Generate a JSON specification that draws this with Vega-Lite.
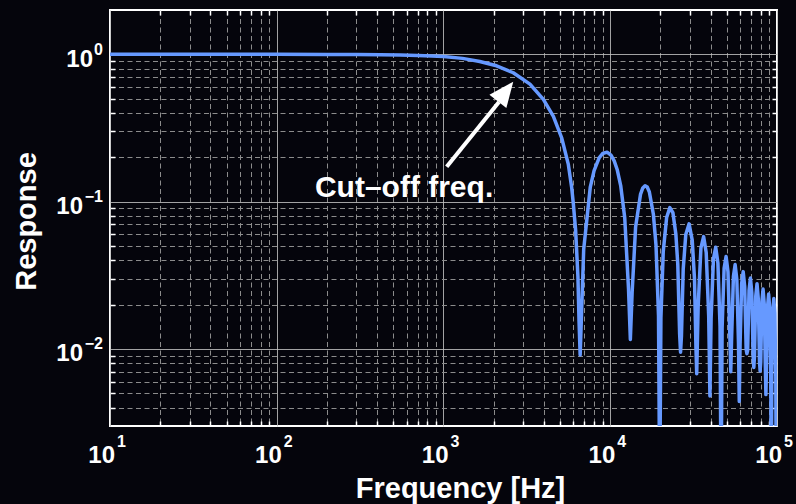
{
  "$schema": "https://vega.github.io/schema/vega-lite/v6.json",
  "width": 667,
  "height": 416,
  "autosize": {"type": "none"},
  "padding": {"left": 110, "top": 10, "right": 19, "bottom": 78},
  "background": "#05050c",
  "config": {
    "view": {"stroke": "#ffffff", "strokeWidth": 2},
    "font": "Liberation Sans"
  },
  "datasets": {
    "curve": [
      {"f": 10, "v": 1.0}, {"f": 30, "v": 0.9998}, {"f": 100, "v": 0.9996}, {"f": 200, "v": 0.9985},
      {"f": 300, "v": 0.997}, {"f": 420, "v": 0.993}, {"f": 550, "v": 0.988}, {"f": 700, "v": 0.981},
      {"f": 850, "v": 0.974}, {"f": 1000, "v": 0.966}, {"f": 1300, "v": 0.939}, {"f": 1650, "v": 0.894},
      {"f": 2080, "v": 0.836}, {"f": 2620, "v": 0.750}, {"f": 3300, "v": 0.628}, {"f": 3970, "v": 0.495},
      {"f": 4560, "v": 0.379}, {"f": 5120, "v": 0.270}, {"f": 5600, "v": 0.180}, {"f": 5870, "v": 0.125},
      {"f": 6000, "v": 0.098}, {"f": 6200, "v": 0.064}, {"f": 6400, "v": 0.031}, {"f": 6500, "v": 0.0154},
      {"f": 6600, "v": 0.0091},
      {"f": 6930, "v": 0.0474}, {"f": 7590, "v": 0.1257}, {"f": 8000, "v": 0.1623}, {"f": 8580, "v": 0.1981},
      {"f": 9000, "v": 0.2123}, {"f": 9570, "v": 0.2168}, {"f": 10100, "v": 0.2071}, {"f": 10560, "v": 0.1892},
      {"f": 11000, "v": 0.1654}, {"f": 11550, "v": 0.1286}, {"f": 12210, "v": 0.0781}, {"f": 12870, "v": 0.0255},
      {"f": 13200, "v": 0.0116},
      {"f": 13530, "v": 0.0243}, {"f": 14190, "v": 0.0672}, {"f": 15180, "v": 0.1120}, {"f": 15680, "v": 0.1239},
      {"f": 16170, "v": 0.1283}, {"f": 16660, "v": 0.1257}, {"f": 17160, "v": 0.1164}, {"f": 18150, "v": 0.0818},
      {"f": 18810, "v": 0.0507}, {"f": 19470, "v": 0.0169}, {"f": 19800, "v": 0.001},
      {"f": 20130, "v": 0.01632}, {"f": 20790, "v": 0.0459}, {"f": 21780, "v": 0.0780}, {"f": 22770, "v": 0.0911},
      {"f": 23760, "v": 0.0841}, {"f": 24750, "v": 0.0600}, {"f": 25410, "v": 0.0375}, {"f": 26070, "v": 0.0126},
      {"f": 26400, "v": 0.0095},
      {"f": 26730, "v": 0.01229}, {"f": 27390, "v": 0.0348}, {"f": 28380, "v": 0.0599}, {"f": 29700, "v": 0.0707},
      {"f": 31020, "v": 0.0548}, {"f": 32010, "v": 0.0298}, {"f": 32670, "v": 0.01006}, {"f": 33000, "v": 0.0068},
      {"f": 33660, "v": 0.01929}, {"f": 34980, "v": 0.0486}, {"f": 36300, "v": 0.0579}, {"f": 37620, "v": 0.0452},
      {"f": 38940, "v": 0.01667}, {"f": 39600, "v": 0.0048},
      {"f": 40260, "v": 0.01612}, {"f": 41580, "v": 0.0409}, {"f": 42900, "v": 0.0490}, {"f": 44220, "v": 0.0384},
      {"f": 45540, "v": 0.01425}, {"f": 46200, "v": 0.001},
      {"f": 46860, "v": 0.01385}, {"f": 48180, "v": 0.0353}, {"f": 49500, "v": 0.0424}, {"f": 50820, "v": 0.0334},
      {"f": 52140, "v": 0.01245}, {"f": 52800, "v": 0.0070},
      {"f": 53460, "v": 0.01214}, {"f": 54780, "v": 0.0310}, {"f": 56100, "v": 0.0374}, {"f": 57420, "v": 0.0296},
      {"f": 58740, "v": 0.01105}, {"f": 59400, "v": 0.0044},
      {"f": 60060, "v": 0.01081}, {"f": 61380, "v": 0.0277}, {"f": 62700, "v": 0.0335}, {"f": 64020, "v": 0.0265},
      {"f": 65340, "v": 0.00994}, {"f": 66000, "v": 0.0093},
      {"f": 66660, "v": 0.00974}, {"f": 67980, "v": 0.0250}, {"f": 69300, "v": 0.0303}, {"f": 70620, "v": 0.0241},
      {"f": 71940, "v": 0.00902}, {"f": 72600, "v": 0.0075},
      {"f": 73260, "v": 0.00886}, {"f": 74580, "v": 0.0228}, {"f": 75900, "v": 0.0277}, {"f": 77220, "v": 0.0220},
      {"f": 78540, "v": 0.00827}, {"f": 79200, "v": 0.0071},
      {"f": 79860, "v": 0.00813}, {"f": 81180, "v": 0.0209}, {"f": 82500, "v": 0.0255}, {"f": 83820, "v": 0.0203},
      {"f": 85140, "v": 0.00762}, {"f": 85800, "v": 0.0049},
      {"f": 86460, "v": 0.00751}, {"f": 87780, "v": 0.0194}, {"f": 89100, "v": 0.0236}, {"f": 90420, "v": 0.0188},
      {"f": 91740, "v": 0.00708}, {"f": 92400, "v": 0.001},
      {"f": 93060, "v": 0.00698}, {"f": 94380, "v": 0.0180}, {"f": 95700, "v": 0.0220}, {"f": 97020, "v": 0.0175},
      {"f": 98340, "v": 0.0066}, {"f": 99000, "v": 0.001}, {"f": 100000, "v": 0.00963}
    ],
    "shaft": [{"f": 1045, "v": 0.1727, "f2": 2152, "v2": 0.4747}],
    "head": [{"f": 2621, "v": 0.6521}],
    "note": [{"f": 580, "v": 0.108, "label": "Cut–off freq."}],
    "xlab": [{"f": 10, "e": "1"}, {"f": 100, "e": "2"}, {"f": 1000, "e": "3"}, {"f": 10000, "e": "4"}, {"f": 100000, "e": "5"}],
    "ylab": [{"v": 1, "e": "0"}, {"v": 0.1, "e": "−1"}, {"v": 0.01, "e": "−2"}]
  },
  "resolve": {"axis": {"x": "independent", "y": "independent"}},
  "layer": [
    {
      "data": {"name": "curve"},
      "mark": {"type": "line", "clip": true, "color": "#6699ff", "strokeWidth": 3.5, "strokeJoin": "round"},
      "encoding": {
        "x": {
          "field": "f", "type": "quantitative",
          "scale": {"type": "log", "domain": [10, 100000], "nice": false},
          "axis": {
            "orient": "bottom", "values": [10, 100, 1000, 10000, 100000],
            "grid": true, "gridColor": "#c0c0c0", "gridWidth": 1, "gridOpacity": 0.85,
            "ticks": false, "domain": false, "labels": false,
            "title": "Frequency [Hz]", "titleFont": "Liberation Sans", "titleFontWeight": "bold", "titleFontSize": 29,
            "titleColor": "#ffffff", "titleX": 350, "titleY": 71, "titleBaseline": "alphabetic", "titleAlign": "center"
          }
        },
        "y": {
          "field": "v", "type": "quantitative",
          "scale": {"type": "log", "domain": [0.003, 2], "nice": false},
          "axis": {
            "orient": "left", "values": [0.01, 0.1, 1],
            "grid": true, "gridColor": "#c0c0c0", "gridWidth": 1, "gridOpacity": 0.85,
            "ticks": false, "domain": false, "labels": false,
            "title": "Response", "titleFont": "Liberation Sans", "titleFontWeight": "bold", "titleFontSize": 29,
            "titleColor": "#ffffff", "titleX": -75, "titleY": 211, "titleAngle": 270, "titleBaseline": "alphabetic", "titleAlign": "center"
          }
        }
      }
    },
    {
      "data": {"name": "shaft"},
      "mark": {"type": "rule", "color": "#ffffff", "strokeWidth": 4},
      "encoding": {
        "x": {
          "field": "f", "type": "quantitative",
          "scale": {"type": "log", "domain": [10, 100000], "nice": false},
          "axis": {
            "orient": "bottom",
            "values": [20, 30, 40, 50, 60, 70, 80, 90, 200, 300, 400, 500, 600, 700, 800, 900, 2000, 3000, 4000, 5000, 6000, 7000, 8000, 9000, 20000, 30000, 40000, 50000, 60000, 70000, 80000, 90000],
            "grid": true, "gridColor": "#8c8c8c", "gridWidth": 1, "gridDash": [5, 3.5],
            "labels": false, "ticks": true, "tickSize": -5, "tickColor": "#ffffff", "tickWidth": 1.5, "domain": false, "title": null
          }
        },
        "x2": {"field": "f2"},
        "y": {
          "field": "v", "type": "quantitative",
          "scale": {"type": "log", "domain": [0.003, 2], "nice": false},
          "axis": {
            "orient": "left",
            "values": [0.004, 0.005, 0.006, 0.007, 0.008, 0.009, 0.02, 0.03, 0.04, 0.05, 0.06, 0.07, 0.08, 0.09, 0.2, 0.3, 0.4, 0.5, 0.6, 0.7, 0.8, 0.9],
            "grid": true, "gridColor": "#8c8c8c", "gridWidth": 1, "gridDash": [5, 3.5],
            "labels": false, "ticks": true, "tickSize": -5, "tickColor": "#ffffff", "tickWidth": 1.5, "domain": false, "title": null
          }
        },
        "y2": {"field": "v2"}
      }
    },
    {
      "data": {"name": "head"},
      "mark": {"type": "point", "shape": "M0,0L-0.86,2L0.86,2Z", "size": 625, "angle": 38, "filled": true, "color": "#ffffff", "opacity": 1, "strokeWidth": 0},
      "encoding": {
        "x": {
          "field": "f", "type": "quantitative",
          "scale": {"type": "log", "domain": [10, 100000], "nice": false},
          "axis": {
            "orient": "top",
            "values": [20, 30, 40, 50, 60, 70, 80, 90, 200, 300, 400, 500, 600, 700, 800, 900, 2000, 3000, 4000, 5000, 6000, 7000, 8000, 9000, 20000, 30000, 40000, 50000, 60000, 70000, 80000, 90000],
            "grid": false, "labels": false, "ticks": true, "tickSize": -5, "tickColor": "#ffffff", "tickWidth": 1.5, "domain": false, "title": null
          }
        },
        "y": {
          "field": "v", "type": "quantitative",
          "scale": {"type": "log", "domain": [0.003, 2], "nice": false},
          "axis": {
            "orient": "right",
            "values": [0.004, 0.005, 0.006, 0.007, 0.008, 0.009, 0.02, 0.03, 0.04, 0.05, 0.06, 0.07, 0.08, 0.09, 0.2, 0.3, 0.4, 0.5, 0.6, 0.7, 0.8, 0.9],
            "grid": false, "labels": false, "ticks": true, "tickSize": -5, "tickColor": "#ffffff", "tickWidth": 1.5, "domain": false, "title": null
          }
        }
      }
    },
    {
      "data": {"name": "note"},
      "mark": {"type": "text", "font": "Liberation Sans", "fontWeight": "bold", "fontSize": 30, "color": "#ffffff", "align": "center", "baseline": "alphabetic"},
      "encoding": {
        "x": {"field": "f", "type": "quantitative", "scale": {"type": "log", "domain": [10, 100000], "nice": false}, "axis": null},
        "y": {"field": "v", "type": "quantitative", "scale": {"type": "log", "domain": [0.003, 2], "nice": false}, "axis": null},
        "text": {"field": "label"}
      }
    },
    {
      "data": {"name": "xlab"},
      "mark": {"type": "text", "font": "Liberation Sans", "fontWeight": "bold", "fontSize": 24, "color": "#ffffff", "align": "right", "baseline": "alphabetic", "dx": 5, "dy": 37},
      "encoding": {
        "x": {"field": "f", "type": "quantitative", "scale": {"type": "log", "domain": [10, 100000], "nice": false}, "axis": null},
        "y": {"datum": 0.003, "type": "quantitative", "scale": {"type": "log", "domain": [0.003, 2], "nice": false}, "axis": null},
        "text": {"value": "10"}
      }
    },
    {
      "data": {"name": "xlab"},
      "mark": {"type": "text", "font": "Liberation Sans", "fontWeight": "bold", "fontSize": 16, "color": "#ffffff", "align": "left", "baseline": "alphabetic", "dx": 7, "dy": 21},
      "encoding": {
        "x": {"field": "f", "type": "quantitative", "scale": {"type": "log", "domain": [10, 100000], "nice": false}, "axis": null},
        "y": {"datum": 0.003, "type": "quantitative", "scale": {"type": "log", "domain": [0.003, 2], "nice": false}, "axis": null},
        "text": {"field": "e"}
      }
    },
    {
      "data": {"name": "ylab"},
      "transform": [{"filter": "datum.v == 1"}],
      "mark": {"type": "text", "font": "Liberation Sans", "fontWeight": "bold", "fontSize": 24, "color": "#ffffff", "align": "right", "baseline": "alphabetic", "dx": -17, "dy": 12.5},
      "encoding": {
        "x": {"datum": 10, "type": "quantitative", "scale": {"type": "log", "domain": [10, 100000], "nice": false}, "axis": null},
        "y": {"field": "v", "type": "quantitative", "scale": {"type": "log", "domain": [0.003, 2], "nice": false}, "axis": null},
        "text": {"value": "10"}
      }
    },
    {
      "data": {"name": "ylab"},
      "transform": [{"filter": "datum.v < 1"}],
      "mark": {"type": "text", "font": "Liberation Sans", "fontWeight": "bold", "fontSize": 24, "color": "#ffffff", "align": "right", "baseline": "alphabetic", "dx": -27, "dy": 12.5},
      "encoding": {
        "x": {"datum": 10, "type": "quantitative", "scale": {"type": "log", "domain": [10, 100000], "nice": false}, "axis": null},
        "y": {"field": "v", "type": "quantitative", "scale": {"type": "log", "domain": [0.003, 2], "nice": false}, "axis": null},
        "text": {"value": "10"}
      }
    },
    {
      "data": {"name": "ylab"},
      "mark": {"type": "text", "font": "Liberation Sans", "fontWeight": "bold", "fontSize": 16, "color": "#ffffff", "align": "right", "baseline": "alphabetic", "dx": -7, "dy": 0.5},
      "encoding": {
        "x": {"datum": 10, "type": "quantitative", "scale": {"type": "log", "domain": [10, 100000], "nice": false}, "axis": null},
        "y": {"field": "v", "type": "quantitative", "scale": {"type": "log", "domain": [0.003, 2], "nice": false}, "axis": null},
        "text": {"field": "e"}
      }
    }
  ]
}
